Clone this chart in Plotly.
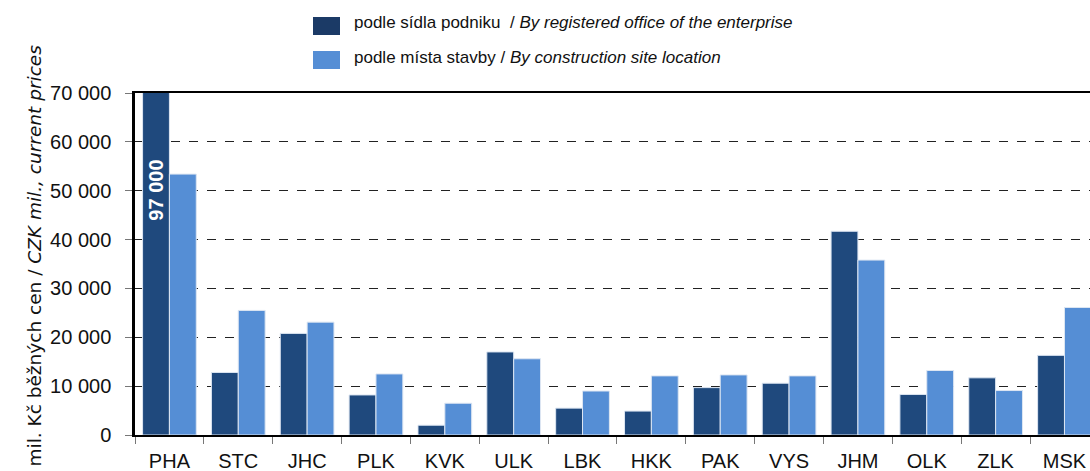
import plotly.graph_objects as go

categories = ["PHA", "STC", "JHC", "PLK", "KVK", "ULK", "LBK", "HKK", "PAK", "VYS", "JHM", "OLK", "ZLK", "MSK"]
by_office = [97000, 12800, 20800, 8200, 2000, 17000, 5500, 4900, 9700, 10600, 41700, 8300, 11700, 16300]
by_site = [53400, 25500, 23100, 12500, 6500, 15600, 9000, 12100, 12300, 12100, 35800, 13200, 9100, 26100]
y_ticks = [0, 10000, 20000, 30000, 40000, 50000, 60000, 70000]
y_ticklabels = ["0", "10 000", "20 000", "30 000", "40 000", "50 000", "60 000", "70 000"]
clipped_label = "97 000"

name_office = "podle sídla podniku  / <i>By registered office of the enterprise</i>"
name_site = "podle místa stavby / <i>By construction site location</i>"
y_title = "mil. Kč běžných cen / <i>CZK mil., current prices</i>"

DARK = "#1F497D"
LIGHT = "#558ED5"
FONT = "Liberation Sans, Arial, sans-serif"

W, H = 1090, 471
L, T, B = 135, 93, 435  # plot-area pixel edges on the page
PW, PH = W - L, B - T

def px(x):
    return (x - L) / PW

def py(y):
    return (B - y) / PH

fig = go.Figure()
fig.add_trace(go.Bar(x=categories, y=by_office, name="office", marker=dict(color=DARK, line=dict(color="#DDE6F2", width=1))))
fig.add_trace(go.Bar(x=categories, y=by_site, name="site", marker=dict(color=LIGHT, line=dict(color="#DDE6F2", width=1))))

fig.update_layout(
    width=W, height=H,
    margin=dict(l=L, r=0, t=T, b=H - B, pad=0),
    barmode="group", bargap=0.22, bargroupgap=0,
    plot_bgcolor="white", paper_bgcolor="white",
    showlegend=False,
    font=dict(family=FONT, size=20, color="#111"),
)
fig.update_xaxes(
    range=[-0.5, -0.5 + PW / 68.85],
    showline=True, linecolor="black", linewidth=2, mirror=True,
    ticks="outside", tickson="boundaries", ticklen=7, tickcolor="#777", tickwidth=1,
    showgrid=False, tickfont=dict(size=20), ticklabelstandoff=7,
)
fig.update_yaxes(
    range=[0, 70000], tickvals=y_ticks, ticktext=y_ticklabels,
    showline=True, linecolor="black", linewidth=2.5, mirror=False,
    ticks="outside", ticklen=7, tickcolor="#777", tickwidth=1,
    showgrid=True, gridcolor="#222", gridwidth=1, griddash="dash",
    zeroline=False, tickfont=dict(size=20), ticklabelstandoff=10,
)

# clipped value label inside PHA bar
fig.add_annotation(x=categories[0], y=50200, text="<b>" + clipped_label + "</b>", textangle=-90,
                   showarrow=False, xshift=-13.5, font=dict(color="white", size=20, family=FONT))

# y axis title
fig.add_annotation(xref="paper", yref="paper", x=px(21), y=py(256), text=y_title, textangle=-90,
                   showarrow=False, font=dict(size=18.5, family="DejaVu Sans, sans-serif", color="#111"))

# manual legend
for (y0, y1, col, txt, ty) in [(17, 35, "#1B3A66", name_office, 23), (51, 69, LIGHT, name_site, 58)]:
    fig.add_shape(type="rect", xref="paper", yref="paper", x0=px(313), x1=px(340), y0=py(y1), y1=py(y0),
                  fillcolor=col, line=dict(width=0))
    fig.add_annotation(xref="paper", yref="paper", x=px(352), y=py(ty), xanchor="left", yanchor="middle",
                       text=txt, showarrow=False, font=dict(size=17, family=FONT, color="#111"))

fig.write_html("out.html", config={"displayModeBar": False},
               post_script="document.body.style.margin='0px';document.body.style.overflow='hidden';")
